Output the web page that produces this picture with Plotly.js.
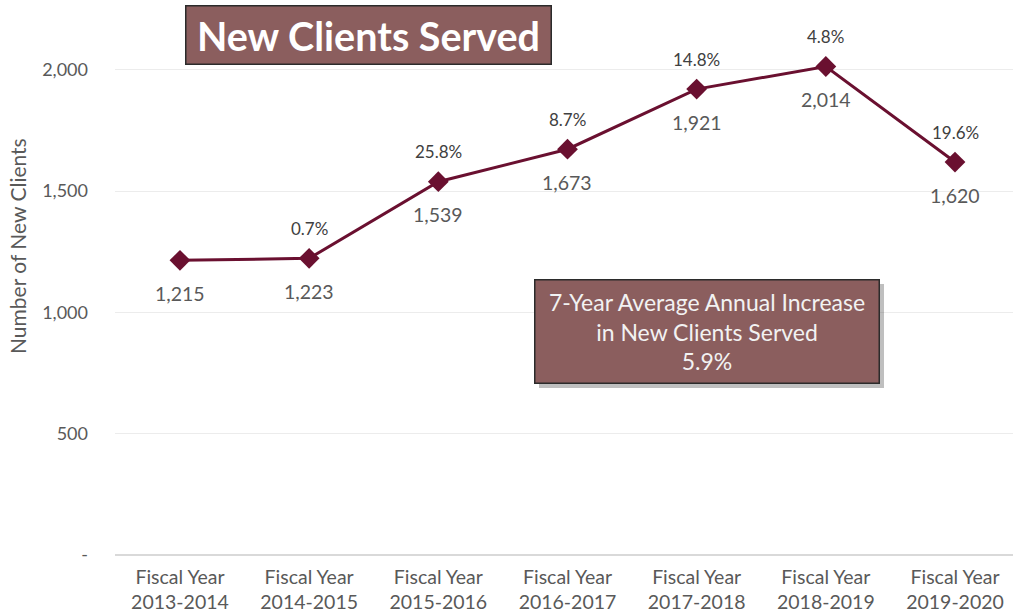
<!DOCTYPE html>
<html>
<head>
<meta charset="utf-8">
<script src="https://cdn.plot.ly/plotly-3.0.1.min.js"></script>
<style>html,body{margin:0;padding:0;background:#fff;}#chart{width:1013px;height:615px;}</style>
</head>
<body>
<div id="chart"></div>
<script>
const categories = ["Fiscal Year<br>2013-2014","Fiscal Year<br>2014-2015","Fiscal Year<br>2015-2016","Fiscal Year<br>2016-2017","Fiscal Year<br>2017-2018","Fiscal Year<br>2018-2019","Fiscal Year<br>2019-2020"];
const newClients = [1215, 1223, 1539, 1673, 1921, 2014, 1620];
const valueLabels = ["1,215","1,223","1,539","1,673","1,921","2,014","1,620"];
const pctLabels = ["", "0.7%", "25.8%", "8.7%", "14.8%", "4.8%", "19.6%"];
const yTickVals = [0, 500, 1000, 1500, 2000];
const yTickText = ["-", "500", "1,000", "1,500", "2,000"];
const chartTitle = "New Clients Served";
const yAxisTitle = "Number of New Clients";
const avgBoxText = "7-Year Average Annual Increase<br>in New Clients Served<br>5.9%";

const FONT = "Lato, 'Open Sans', sans-serif";
const xIdx = categories.map((_, i) => i);

const traces = [
  {
    x: xIdx, y: newClients, type: "scatter", mode: "lines+markers",
    line: {color: "#6A1030", width: 3},
    marker: {symbol: "diamond", size: 16, color: "#6A1030"},
    cliponaxis: false, hoverinfo: "skip"
  }
];

const labelAnns = [];
xIdx.forEach(i => {
  labelAnns.push({
    xref: "x", yref: "y", x: i, y: newClients[i], text: valueLabels[i],
    showarrow: false, yshift: -33,
    font: {family: FONT, size: 19.5, color: "#595959"}
  });
  if (pctLabels[i]) {
    labelAnns.push({
      xref: "x", yref: "y", x: i, y: newClients[i], text: pctLabels[i],
      showarrow: false, yshift: 30,
      font: {family: FONT, size: 17, color: "#404040"}
    });
  }
});

const layout = {
  width: 1013, height: 615,
  margin: {l: 115, r: 0, t: 10, b: 60},
  paper_bgcolor: "#fff", plot_bgcolor: "#fff",
  showlegend: false,
  font: {family: FONT, color: "#595959"},
  xaxis: {
    range: [-0.503, 6.449],
    tickvals: xIdx, ticktext: categories,
    showgrid: false, zeroline: false,
    showline: false, ticks: "", ticklabelstandoff: 8,
    tickfont: {family: FONT, size: 19.5, color: "#595959"}
  },
  yaxis: {
    range: [0, 2247],
    tickvals: yTickVals, ticktext: yTickText,
    showgrid: true, gridcolor: "#ECECEC", gridwidth: 1,
    zeroline: true, zerolinecolor: "#D9D9D9", zerolinewidth: 1.5,
    ticks: "", ticklabelstandoff: 26,
    tickfont: {family: FONT, size: 18, color: "#595959"}
  },
  annotations: [
    {
      xref: "paper", yref: "paper", x: -0.108, y: 0.567, xanchor: "center", yanchor: "middle",
      text: yAxisTitle, textangle: -90, showarrow: false,
      font: {family: FONT, size: 21, color: "#595959"}
    },
    {
      xref: "x", yref: "y", x: 1.46, y: 2144,
      text: "<b>" + chartTitle + "</b>", showarrow: false,
      font: {family: FONT, size: 39.5, color: "#ffffff"},
      bgcolor: "#8B5E5E", bordercolor: "#2b2b2b", borderwidth: 1.5,
      width: 364, height: 57, borderpad: 0
    },
    {
      xref: "x", yref: "y", x: 4.115, y: 902,
      text: "", showarrow: false,
      bgcolor: "rgba(0,0,0,0.25)", bordercolor: "rgba(0,0,0,0)", borderwidth: 0,
      width: 345, height: 104, borderpad: 0
    },
    {
      xref: "x", yref: "y", x: 4.08, y: 920,
      text: avgBoxText, showarrow: false,
      font: {family: FONT, size: 23, color: "#F2F2F2"},
      bgcolor: "#8B5E5E", bordercolor: "#2b2b2b", borderwidth: 1.5,
      width: 343, height: 102, borderpad: 0
    }
  ].concat(labelAnns)
};

Plotly.newPlot("chart", traces, layout, {displayModeBar: false, staticPlot: true});
</script>
</body>
</html>
